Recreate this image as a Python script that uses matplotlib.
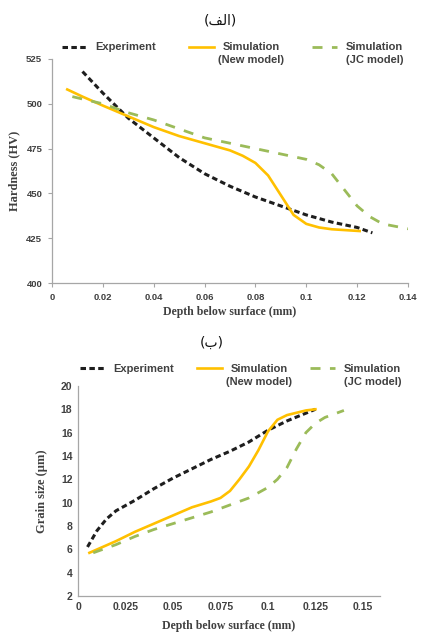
import matplotlib
matplotlib.use("Agg")
import matplotlib.pyplot as plt
import numpy as np

BLACK = "#1e1e1e"
GOLD = "#FFC000"
OLIVE = "#9BBB59"
SPINE = "#A6A6A6"
TXT = "#404040"

# --- (a) hardness vs depth ---
hard_exp_x = [0.012, 0.02, 0.03, 0.04, 0.05, 0.06, 0.07, 0.08, 0.09, 0.1, 0.11, 0.12, 0.126]
hard_exp_y = [518, 506, 492, 481, 470, 461, 454, 448, 443, 438, 434, 431, 428]
hard_new_x = [0.006, 0.012, 0.02, 0.03, 0.04, 0.05, 0.06, 0.07, 0.075, 0.08, 0.085,
              0.09, 0.095, 0.1, 0.105, 0.11, 0.121]
hard_new_y = [508, 504, 499, 493, 487, 482, 478, 474, 471, 467, 460,
              449, 438, 433, 431, 430, 429]
hard_jc_x = [0.008, 0.02, 0.03, 0.04, 0.05, 0.06, 0.07, 0.08, 0.09, 0.1, 0.105,
             0.11, 0.115, 0.12, 0.125, 0.13, 0.141]
hard_jc_y = [504, 500, 495, 491, 486, 481, 478, 475, 472, 469, 466,
             461, 452, 443, 437, 433, 430]

# --- (b) grain size vs depth ---
grain_exp_x = [0.005, 0.01, 0.015, 0.02, 0.03, 0.04, 0.05, 0.06, 0.07, 0.08, 0.09, 0.1, 0.11, 0.125]
grain_exp_y = [6.2, 7.6, 8.6, 9.3, 10.2, 11.2, 12.1, 12.9, 13.7, 14.4, 15.2, 16.2, 17.0, 18.0]
grain_new_x = [0.006, 0.02, 0.03, 0.04, 0.05, 0.06, 0.07, 0.075, 0.08, 0.085, 0.09,
               0.095, 0.1, 0.105, 0.11, 0.12, 0.125]
grain_new_y = [5.7, 6.7, 7.5, 8.2, 8.9, 9.6, 10.1, 10.4, 11.0, 12.0, 13.1,
               14.5, 16.1, 17.1, 17.5, 17.9, 18.0]
grain_jc_x = [0.008, 0.02, 0.03, 0.04, 0.05, 0.06, 0.07, 0.08, 0.09, 0.1, 0.105,
              0.11, 0.115, 0.12, 0.125, 0.13, 0.14]
grain_jc_y = [5.7, 6.4, 7.1, 7.7, 8.2, 8.7, 9.2, 9.8, 10.4, 11.3, 12.0,
              13.0, 14.6, 16.0, 16.8, 17.3, 17.9]

hard_xticks = [0, 0.02, 0.04, 0.06, 0.08, 0.1, 0.12, 0.14]
hard_yticks = [400, 425, 450, 475, 500, 525]
grain_xticks = [0, 0.025, 0.05, 0.075, 0.1, 0.125, 0.15]
grain_yticks = [2, 4, 6, 8, 10, 12, 14, 16, 18, 20]

LABELS = ["Experiment", "Simulation", "Simulation"]
SUBLABELS = [None, "(New model)", "(JC model)"]
TITLE_A = "(\ufed2\ufedf\ufe8d)"   # (الف) in presentation forms, visual order
TITLE_B = "(\ufe8f)"               # (ب)

SANS = "Liberation Sans"
SERIF = "Liberation Serif"

fig = plt.figure(figsize=(4.21, 6.33), dpi=100)
ax1 = fig.add_axes([0.1235, 0.5529, 0.8456, 0.3539])
ax2 = fig.add_axes([0.1853, 0.0585, 0.7173, 0.3318])


def draw_series(ax, ex, ey, nx, ny, jx, jy):
    l1, = ax.plot(ex, ey, color=BLACK, lw=2.2, dashes=(1.8, 1.1))
    l2, = ax.plot(nx, ny, color=GOLD, lw=1.9)
    l3, = ax.plot(jx, jy, color=OLIVE, lw=2.0, dashes=(3.6, 3.4))
    return [l1, l2, l3]


def style(ax, xticks, yticks, ticklen, labelsize):
    for s in ("top", "right"):
        ax.spines[s].set_visible(False)
    for s in ("left", "bottom"):
        ax.spines[s].set_color(SPINE)
        ax.spines[s].set_linewidth(0.9)
    ax.set_xticks(xticks)
    ax.set_yticks(yticks)
    ax.set_xticklabels([f"{v:g}" for v in xticks])
    ax.set_yticklabels([f"{v:g}" for v in yticks])
    ax.tick_params(length=ticklen, width=0.8, color=SPINE, labelsize=labelsize,
                   labelcolor=TXT, pad=4)
    for t in ax.get_xticklabels() + ax.get_yticklabels():
        t.set_fontfamily(SANS)
        t.set_fontweight("bold")


def add_legend(ax_lines, x, y, colsp):
    leg = fig.legend(ax_lines, LABELS, loc="upper center", bbox_to_anchor=(x, y),
                     ncol=3, frameon=False, handlelength=2.3, handletextpad=0.75,
                     columnspacing=colsp, borderaxespad=0,
                     prop={"family": SANS, "weight": "bold", "size": 8})
    for t in leg.get_texts():
        t.set_color(TXT)
    return leg


def add_sublabels(leg):
    fig.canvas.draw()
    r = fig.canvas.get_renderer()
    inv = fig.transFigure.inverted()
    for t, sub in zip(leg.get_texts(), SUBLABELS):
        if sub is None:
            continue
        bb = t.get_window_extent(r).transformed(inv)
        fig.text((bb.x0 + bb.x1) / 2, bb.y0 - 0.004, sub, ha="center", va="top",
                 family=SANS, weight="bold", size=8, color=TXT)


lines1 = draw_series(ax1, hard_exp_x, hard_exp_y, hard_new_x, hard_new_y, hard_jc_x, hard_jc_y)
ax1.set_xlim(0, 0.14)
ax1.set_ylim(400, 525)
style(ax1, hard_xticks, hard_yticks, 3, 6.8)
ax1.set_xlabel("Depth below surface (mm)", family=SERIF, weight="bold", size=8.5, color=TXT, labelpad=3)
ax1.set_ylabel("Hardness (HV)", family=SERIF, weight="bold", size=9, color=TXT, labelpad=4)

lines2 = draw_series(ax2, grain_exp_x, grain_exp_y, grain_new_x, grain_new_y, grain_jc_x, grain_jc_y)
ax2.set_xlim(0, 0.159)
ax2.set_ylim(2, 20)
style(ax2, grain_xticks, grain_yticks, 0, 7.5)
ax2.set_xlabel("Depth below surface (mm)", family=SERIF, weight="bold", size=8.5, color=TXT, labelpad=6)
ax2.set_ylabel("Grain size (\u00b5m)", family=SERIF, weight="bold", size=9, color=TXT, labelpad=9)

fig.text(0.523, 0.968, TITLE_A, ha="center", va="center", family="DejaVu Sans", size=10, color="#111111")
fig.text(0.502, 0.459, TITLE_B, ha="center", va="center", family="DejaVu Sans", size=10, color="#111111")

leg1 = add_legend(lines1, 0.552, 0.940, 2.9)
leg2 = add_legend(lines2, 0.571, 0.432, 2.0)
add_sublabels(leg1)
add_sublabels(leg2)

fig.savefig("out.png", dpi=100, facecolor="white")
